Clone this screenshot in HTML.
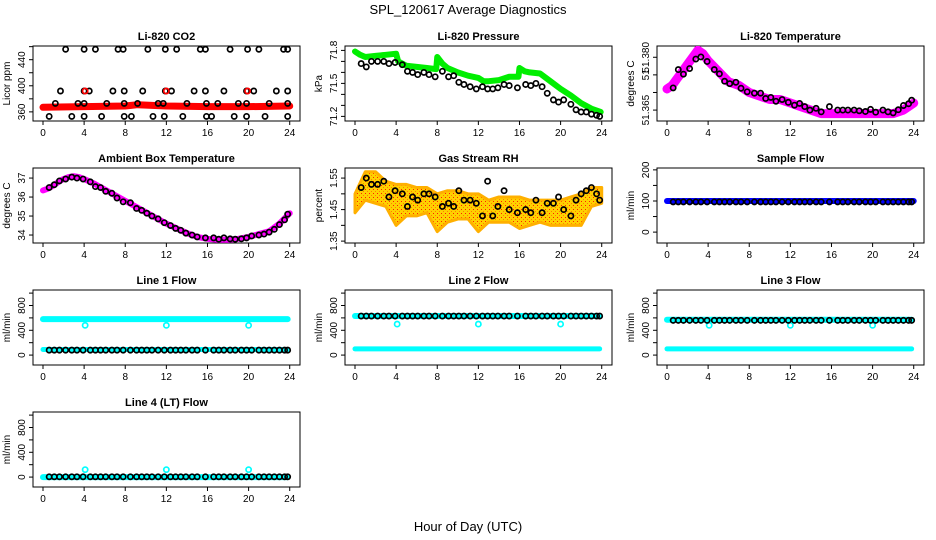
<!DOCTYPE html>
<html><head><meta charset="utf-8">
<style>
body{margin:0;background:#fff;}
svg{display:block;font-family:"Liberation Sans",sans-serif;}
</style></head>
<body>
<svg id="c" width="936" height="540" viewBox="0 0 936 540">
<text x="468" y="14" text-anchor="middle" font-size="13">SPL_120617  Average Diagnostics</text>
<text x="468" y="531" text-anchor="middle" font-size="13">Hour of Day (UTC)</text>
<defs>
<pattern id="rhpat" width="4" height="4" patternUnits="userSpaceOnUse"><rect width="4" height="4" fill="#ffd000"/><rect x="1" y="1" width="1" height="1" fill="#ff2000"/><rect x="3" y="3" width="1" height="1" fill="#ff8000"/></pattern>
</defs>
</svg>
<script>
// ---------- data ----------
const hourTicks=[0,4,8,12,16,20,24];
const sampleHours=[0.6,1.1,1.6,2.2,2.8,3.3,3.9,4.6,5.1,5.6,6.1,6.7,7.2,7.8,8.5,9.1,9.6,10.1,10.6,11.2,11.8,12.4,12.9,13.4,13.9,14.5,15,15.8,16.6,17.1,17.6,18.2,18.7,19.3,19.8,20.3,21,21.5,22,22.5,23,23.5,23.8];
// CO2
const co2LineX=[0,4,8,9.2,12,16,20,24];
const co2LineY=[367,368,369,371,369,368,368,369];
const co2HighX=[2.2,4,5.1,7.3,7.8,10.2,11.9,13,15.3,15.8,18.2,19.9,21,23.4,23.8];
const co2MidX=[1.7,4,4.5,6.8,7.9,9.7,11.9,12.5,14.7,15.8,17.6,19.8,20.5,22.7,23.8];
const co2LowX=[1.2,3.4,4,6.2,7.9,9.2,11.2,11.7,14,15.9,17,19,19.8,22,23.8];
const co2BotX=[0.6,2.8,4,5.7,7.9,8.6,10.7,11.8,13.6,15.9,16.4,18.6,19.8,21.6,23.8];
const co2Levels=[456,392,373,353];
const co2RedX=[4.1,12,19.9];
// Pressure
const presLineX=[0,0.5,1,2,3,4,4.2,5,6,7,7.9,8.0,8.5,9,10,11,12,12.5,13,14,15,15.9,16.0,16.5,17,18,19,20,21,22,23,23.9];
const presLineY=[71.79,71.76,71.74,71.75,71.76,71.77,71.70,71.66,71.65,71.64,71.63,71.74,71.68,71.64,71.60,71.57,71.55,71.52,71.52,71.53,71.56,71.56,71.64,71.61,71.60,71.59,71.52,71.45,71.39,71.32,71.27,71.24];
const presPts=[71.68,71.65,71.7,71.7,71.7,71.68,71.69,71.67,71.61,71.6,71.58,71.6,71.58,71.56,71.61,71.56,71.57,71.51,71.49,71.47,71.45,71.47,71.45,71.45,71.46,71.49,71.48,71.46,71.49,71.48,71.5,71.47,71.41,71.35,71.33,71.35,71.31,71.26,71.24,71.24,71.22,71.21,71.2];
// Li-820 temperature
const tempLineX=[0,0.5,1,1.5,2,2.5,3,3.5,4,5,6,7,8,9,10,11,12,13,14,15,16,17,18,19,20,21,22,23,24];
const tempLineY=[51.371,51.372,51.374,51.376,51.378,51.380,51.382,51.381,51.379,51.376,51.373,51.372,51.370,51.369,51.368,51.368,51.367,51.366,51.365,51.364,51.364,51.364,51.364,51.364,51.364,51.364,51.364,51.365,51.367];
const tempPts=[51.3713,51.3765,51.3752,51.3768,51.3795,51.3801,51.3788,51.3765,51.3753,51.3732,51.3725,51.3729,51.3712,51.3702,51.3698,51.3698,51.3683,51.3686,51.3675,51.3680,51.3672,51.3664,51.3669,51.3660,51.3650,51.3655,51.3645,51.3660,51.3650,51.3650,51.3650,51.3650,51.3648,51.3646,51.3652,51.3644,51.3650,51.3645,51.3642,51.3651,51.3663,51.3668,51.3678];
// Ambient box temperature
const ambLineX=[0,0.5,1,1.5,2,2.5,3,3.5,4,5,6,7,8,9,10,11,12,13,14,15,16,17,18,19,20,21,22,23,24];
const ambLineY=[36.35,36.45,36.6,36.8,36.95,37.05,37.1,37.05,36.95,36.7,36.4,36.1,35.8,35.5,35.2,34.9,34.6,34.35,34.1,33.9,33.8,33.75,33.75,33.8,33.9,34.05,34.2,34.6,35.15];
const ambPts=[36.5,36.65,36.85,36.95,37.05,37.0,36.95,36.8,36.55,36.5,36.3,36.2,35.95,35.75,35.7,35.4,35.3,35.15,35.0,34.85,34.65,34.5,34.35,34.25,34.1,34.0,33.9,33.85,33.85,33.78,33.85,33.8,33.78,33.8,33.85,33.95,34.0,34.05,34.15,34.3,34.55,34.8,35.1];
// Gas stream RH
const rhX=[0,1,2,3,4,5,6,7,8,9,10,11,12,13,14,15,16,17,18,19,20,21,22,23,24];
const rhUpper=[1.50,1.57,1.57,1.54,1.53,1.53,1.52,1.52,1.50,1.51,1.51,1.50,1.50,1.48,1.49,1.49,1.49,1.48,1.48,1.48,1.48,1.49,1.50,1.52,1.52];
const rhLower=[1.44,1.48,1.47,1.46,1.40,1.43,1.43,1.44,1.38,1.41,1.42,1.42,1.38,1.41,1.41,1.41,1.39,1.40,1.41,1.40,1.40,1.40,1.40,1.46,1.47];
const rhPts=[1.52,1.55,1.53,1.53,1.54,1.49,1.51,1.50,1.46,1.49,1.48,1.50,1.50,1.49,1.46,1.47,1.46,1.51,1.48,1.48,1.47,1.43,1.54,1.43,1.46,1.51,1.45,1.44,1.45,1.44,1.48,1.44,1.47,1.47,1.49,1.45,1.43,1.48,1.50,1.51,1.52,1.50,1.48];
// flows
const sampleFlowLine=100, sampleFlowPts=97;
const line1High=580, line1Low=90, line1Black=80, line1Dip=480;
const line2High=630, line2Low=100, line2Black=630, line2Dip=500;
const line3High=570, line3Low=100, line3Black=560, line3Dip=480;
const line4High=0, line4Low=0, line4Black=5, line4Dip=120;
const dipHours=[4.1,12,20];

// ---------- drawing ----------
const svg=document.getElementById('c');
const NS='http://www.w3.org/2000/svg';
function mk(tag,attrs,parent){const e=document.createElementNS(NS,tag);for(const k in attrs)e.setAttribute(k,attrs[k]);(parent||svg).appendChild(e);return e;}

function panel(col,row,title,ylab,ymin,ymax,yTicks,yLabels,name){
  const L=33+312*col, W=267, T=46+122*row, H=75;
  const g=mk('g',{});
  
  
  const sx=x=>L+10+x*10.28;
  const sy=v=>T+H-(v-ymin)/(ymax-ymin)*H;
  const box=mk('rect',{x:L,y:T,width:W,height:H,fill:'none',stroke:'#000','stroke-width':1},g);
  
  
  const t=mk('text',{x:L+W/2,y:T-6,'text-anchor':'middle','font-size':11,'font-weight':'bold'},g);
  t.textContent=title;
  
  
  const xa=mk('g',{},g);
  
  
  mk('line',{x1:sx(0),x2:sx(24),y1:T+H,y2:T+H,stroke:'#000'},xa);
  hourTicks.forEach(h=>{
    mk('line',{x1:sx(h),x2:sx(h),y1:T+H,y2:T+H+4,stroke:'#000'},xa);
    const tl=mk('text',{x:sx(h),y:T+H+15,'text-anchor':'middle','font-size':10},xa);
    tl.textContent=h;
  });
  const ya=mk('g',{},g);
  
  
  mk('line',{x1:L,x2:L,y1:sy(yTicks[0]),y2:sy(yTicks[yTicks.length-1]),stroke:'#000'},ya);
  yTicks.forEach((v,i)=>{
    mk('line',{x1:L-4,x2:L,y1:sy(v),y2:sy(v),stroke:'#000'},ya);
    if(yLabels[i]!==''){
      const tl=mk('text',{x:L-8,y:sy(v),'text-anchor':'middle','font-size':10,transform:`rotate(-90 ${L-8} ${sy(v)})`},ya);
      tl.textContent=yLabels[i];
    }
  });
  const yl=mk('text',{x:L-23,y:T+H/2,'text-anchor':'middle','font-size':10,transform:`rotate(-90 ${L-23} ${T+H/2})`},g);
  yl.textContent=ylab;
  
  
  const clipId='cl'+col+row;
  const cp=mk('clipPath',{id:clipId},g);mk('rect',{x:L,y:T,width:W,height:H},cp);
  const d=mk('g',{'clip-path':`url(#${clipId})`},g);
  return {sx,sy,g:d};
}
function band(p,xs,ys,color,w,name){
  const pl=mk('polyline',{points:xs.map((x,i)=>p.sx(x)+','+p.sy(ys[i])).join(' '),fill:'none',stroke:color,'stroke-width':w,'stroke-linejoin':'round','stroke-linecap':'round'},p.g);
  
  
}
function pts(p,xs,ys,color,name){
  const gg=mk('g',{},p.g);
  
  
  xs.forEach((x,i)=>mk('circle',{cx:p.sx(x),cy:p.sy(ys[i]),r:2.6,fill:'none',stroke:color,'stroke-width':1.7},gg));
}

let p=panel(0,0,'Li-820 CO2','Licor ppm',346,461,[360,380,400,420,440,460],['360','','400','','440',''],'co2');
band(p,co2LineX,co2LineY,'#ff0000',7,'co2-red-series');
[co2HighX,co2MidX,co2LowX,co2BotX].forEach((xs,k)=>pts(p,xs,xs.map(()=>co2Levels[k]),'#000','co2-black-points-'+k));
pts(p,co2RedX,co2RedX.map(()=>co2Levels[1]),'#ff0000','co2-red-points');

p=panel(1,0,'Li-820 Pressure','kPa',71.158,71.84,[71.2,71.3,71.4,71.5,71.6,71.7,71.8],['71.2','','','71.5','','','71.8'],'pressure');
band(p,presLineX,presLineY,'#00ee00',6,'pressure-green-series');
pts(p,sampleHours,presPts,'#000','pressure-black-points');

p=panel(2,0,'Li-820 Temperature','degrees C',51.3619,51.3832,[51.365,51.370,51.375,51.380],['51.365','','51','51.380'],'li820-temp');
band(p,tempLineX,tempLineY,'#ff00ff',9,'li820-temp-magenta-series');
pts(p,sampleHours,tempPts,'#000','li820-temp-black-points');

p=panel(0,1,'Ambient Box Temperature','degrees C',33.58,37.53,[34,35,36,37],['34','35','36','37'],'ambient');
band(p,ambLineX,ambLineY,'#ff00ff',6,'ambient-magenta-series');
pts(p,sampleHours,ambPts,'#000','ambient-black-points');

p=panel(1,1,'Gas Stream RH','percent',1.344,1.582,[1.35,1.40,1.45,1.50,1.55],['1.35','','1.45','','1.55'],'rh');
const poly=rhX.map((x,i)=>p.sx(x)+','+p.sy(rhUpper[i])).concat(rhX.slice().reverse().map((x,i)=>p.sx(x)+','+p.sy(rhLower[rhX.length-1-i]))).join(' ');
const rp=mk('polygon',{points:poly,fill:'url(#rhpat)',stroke:'#ffb000','stroke-width':3,'stroke-linejoin':'round'},p.g);


pts(p,sampleHours,rhPts,'#000','rh-black-points');

p=panel(2,1,'Sample Flow','ml/min',-35,206,[0,50,100,150,200],['0','','100','','200'],'sample-flow');
band(p,[0,24],[sampleFlowLine,sampleFlowLine],'#0000ff',6,'sample-flow-blue-series');
pts(p,sampleHours,sampleHours.map(()=>sampleFlowPts),'#000','sample-flow-black-points');

function flow(col,row,title,name,hi,lo,bl,dip){
  const q=panel(col,row,title,'ml/min',-160,1050,[0,200,400,600,800,1000],['0','','400','','800',''],name);
  band(q,[0,23.8],[hi,hi],'#00ffff',6,name+'-cyan-high');
  band(q,[0,23.8],[lo,lo],'#00ffff',5,name+'-cyan-low');
  pts(q,dipHours,dipHours.map(()=>dip),'#00ffff',name+'-cyan-dips');
  pts(q,sampleHours,sampleHours.map(()=>bl),'#000',name+'-black-points');
}
flow(0,2,'Line 1 Flow','line1-flow',line1High,line1Low,line1Black,line1Dip);
flow(1,2,'Line 2 Flow','line2-flow',line2High,line2Low,line2Black,line2Dip);
flow(2,2,'Line 3 Flow','line3-flow',line3High,line3Low,line3Black,line3Dip);
flow(0,3,'Line 4 (LT) Flow','line4-flow',line4High,line4Low,line4Black,line4Dip);
</script>
</body></html>
